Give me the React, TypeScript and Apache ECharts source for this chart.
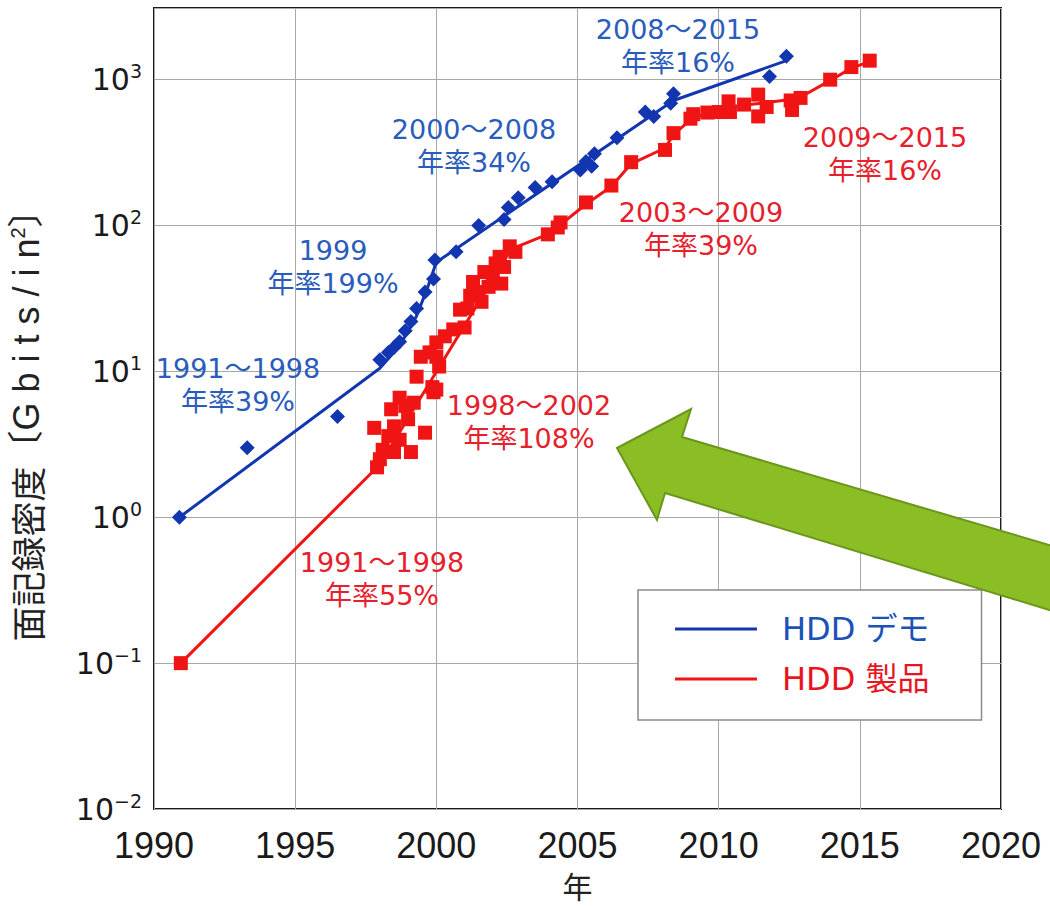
import React, { useEffect, useRef } from "react";
import * as echarts from "echarts";

// ---- data ----
const demoYears = [1990.9, 1993.3, 1996.5, 1998.0, 1998.3, 1998.5, 1998.7, 1998.9, 1999.1, 1999.3, 1999.6, 1999.9, 1999.95, 2000.7, 2001.5, 2002.4, 2002.55, 2002.9, 2003.5, 2004.1, 2005.1, 2005.3, 2005.5, 2005.6, 2006.4, 2007.4, 2007.7, 2008.3, 2008.4, 2011.8, 2012.4];
const demoValues = [1.0, 3.0, 4.9, 12, 13.5, 14.6, 16, 19, 22, 27, 35, 43, 58, 66, 100, 110, 133, 155, 182, 200, 240, 275, 255, 310, 400, 600, 560, 690, 800, 1050, 1450];

const productYears = [1990.95, 1997.9, 1998.0, 1998.1, 1997.8, 1998.3, 1998.4, 1998.5, 1998.5, 1998.7, 1998.7, 1998.9, 1999.0, 1999.1, 1999.2, 1999.3, 1999.45, 1999.6, 1999.76, 1999.86, 1999.9, 2000.0, 2000.0, 2000.1, 2000.0, 2000.3, 2000.6, 2000.84, 2001.0, 2001.1, 2001.2, 2001.3, 2001.5, 2001.6, 2001.7, 2001.85, 2002.0, 2002.1, 2002.24, 2002.3, 2002.4, 2002.6, 2002.8, 2003.95, 2004.3, 2004.4, 2005.3, 2006.2, 2006.9, 2008.1, 2008.4, 2009.0, 2009.1, 2009.6, 2010.0, 2010.35, 2010.4, 2010.9, 2011.4, 2011.4, 2011.7, 2012.55, 2012.6, 2012.9, 2013.95, 2014.7, 2015.35];
const productValues = [0.1, 2.2, 2.5, 2.9, 4.1, 3.6, 5.5, 2.8, 4.2, 3.4, 6.6, 5.8, 4.7, 2.8, 6.1, 9.2, 12.6, 3.8, 13.5, 7.8, 7.2, 15.8, 12.6, 10.8, 7.5, 17.4, 19.4, 26.5, 20, 27, 33, 41, 35, 30, 48, 38, 45, 55, 61, 40, 52, 72, 66, 87, 97, 105, 144, 188, 272, 330, 430, 540, 580, 595, 600, 710, 600, 675, 790, 560, 650, 720, 620, 750, 1000, 1220, 1350];

const demoTrendYears = [1990.9, 1998.0, 1998.7, 1999.3, 1999.7, 2000.0, 2008.4, 2012.4];
const demoTrendValues = [1.0, 10.5, 15, 24, 38, 56, 720, 1350];
const productTrendYears = [1990.95, 1998.0, 2002.65, 2004.0, 2005.3, 2006.2, 2006.9, 2008.1, 2008.4, 2009.0, 2010.0, 2011.5, 2012.8, 2014.0, 2014.7, 2015.35];
const productTrendValues = [0.1, 2.3, 69, 88, 140, 185, 265, 340, 420, 530, 640, 690, 740, 1000, 1200, 1330];

const seriesNames = ["HDD デモ", "HDD 製品"];
const xTicks = { min: 1990, max: 2020, interval: 5 };
const yRange = { min: 0.01, max: 3100 };

const demoNotes = ["2008～2015\n年率16%", "2000～2008\n年率34%", "1999\n年率199%", "1991～1998\n年率39%"];
const productNotes = ["2009～2015\n年率16%", "2003～2009\n年率39%", "1998～2002\n年率108%", "1991～1998\n年率55%"];

// layout (pixels) of the annotation texts
const demoNotePos = [[678, 46], [474, 146], [333, 267], [238, 385]];
const productNotePos = [[885, 154], [701, 229], [529, 422], [382, 579]];

const BLUE = "#1236b0";
const RED = "#f01414";
const BLUE_TXT = "#2a5cbc";
const RED_TXT = "#e6202c";
const FONT = "'DejaVu Sans', 'Noto Sans CJK JP', sans-serif";

const zip = (a: number[], b: number[]) => a.map((v, i) => [v, b[i]]);

export default function App() {
  const ref = useRef<HTMLDivElement>(null);
  useEffect(() => {
    if (!ref.current) return;
    const chart = echarts.init(ref.current, undefined, { renderer: "svg" });

    const noteEls: any[] = [];
    demoNotes.forEach((t, i) =>
      noteEls.push({
        type: "text",
        x: demoNotePos[i][0],
        y: demoNotePos[i][1],
        z: 50,
        style: { text: t, fill: BLUE_TXT, font: `27px ${FONT}`, align: "center", verticalAlign: "middle", lineHeight: 33 },
      })
    );
    productNotes.forEach((t, i) =>
      noteEls.push({
        type: "text",
        x: productNotePos[i][0],
        y: productNotePos[i][1],
        z: 50,
        style: { text: t, fill: RED_TXT, font: `27px ${FONT}`, align: "center", verticalAlign: "middle", lineHeight: 33 },
      })
    );

    const option: any = {
      animation: false,
      backgroundColor: "#ffffff",
      grid: {
        left: 143,
        right: 49,
        top: 8,
        bottom: 96,
        show: true,
        borderColor: "#1a1a1a",
        borderWidth: 2,
        backgroundColor: "transparent",
      },
      legend: {
        data: [
          { name: seriesNames[0], textStyle: { color: "#1a52b8" } },
          { name: seriesNames[1], textStyle: { color: "#e8141e" } },
        ],
        orient: "vertical",
        left: 638,
        top: 590,
        icon: "rect",
        itemWidth: 82,
        itemHeight: 3,
        itemGap: 16,
        padding: [22, 52, 24, 37],
        backgroundColor: "#ffffff",
        borderColor: "#8a8a8a",
        borderWidth: 1.5,
        textStyle: { fontSize: 32, fontFamily: FONT, padding: [0, 0, 0, 20], lineHeight: 34 },
      },
      xAxis: {
        type: "value",
        min: xTicks.min,
        max: xTicks.max,
        interval: xTicks.interval,
        name: "年",
        nameLocation: "middle",
        nameGap: 60,
        nameTextStyle: { fontSize: 30, lineHeight: 32, color: "#222", fontFamily: "'Noto Sans CJK JP', sans-serif" },
        axisLine: { show: false },
        axisTick: { show: false },
        axisLabel: {
          fontSize: 36,
          color: "#1a1a1a",
          fontFamily: "'Liberation Sans', Arial, sans-serif",
          margin: 18,
          formatter: (v: number) => String(Math.round(v)),
        },
        splitLine: { show: true, lineStyle: { color: "#a8a8a8", width: 1 } },
      },
      yAxis: {
        type: "log",
        logBase: 10,
        min: yRange.min,
        max: yRange.max,
        name: "{a|面記録密度}{b|〔G b i t s / i n}{c|2}{b|〕}",
        nameLocation: "middle",
        nameGap: 110,
        nameRotate: 90,
        nameTextStyle: {
          color: "#222",
          padding: [0, 16, 0, 0],
          rich: {
            a: { fontSize: 35, fontFamily: "'Noto Sans CJK JP', sans-serif", color: "#222" },
            b: { fontSize: 36, fontFamily: "'Liberation Sans', 'Noto Sans CJK JP', sans-serif", color: "#222" },
            c: { fontSize: 20, fontFamily: "'Liberation Sans', sans-serif", color: "#222", verticalAlign: "top" },
          },
        },
        axisLine: { show: false },
        axisTick: { show: false },
        axisLabel: {
          margin: 12,
          formatter: (v: number) => {
            const l = Math.log10(v);
            const e = Math.round(l);
            if (Math.abs(l - e) > 1e-6) return "";
            const s = e < 0 ? "−" + -e : String(e);
            return `{b|10}{s|${s}}`;
          },
          rich: {
            b: { fontSize: 30, fontFamily: FONT, color: "#1a1a1a", lineHeight: 36 },
            s: { fontSize: 19, fontFamily: FONT, color: "#1a1a1a", verticalAlign: "top", lineHeight: 18 },
          },
        },
        splitLine: { show: true, lineStyle: { color: "#a8a8a8", width: 1 } },
      },
      series: [
        {
          name: seriesNames[0],
          type: "line",
          data: zip(demoTrendYears, demoTrendValues),
          symbol: "none",
          lineStyle: { color: BLUE, width: 3 },
          itemStyle: { color: BLUE },
          z: 3,
        },
        {
          name: seriesNames[1],
          type: "line",
          data: zip(productTrendYears, productTrendValues),
          symbol: "none",
          lineStyle: { color: RED, width: 3 },
          itemStyle: { color: RED },
          z: 3,
        },
        {
          name: "デモ実績",
          type: "scatter",
          data: zip(demoYears, demoValues),
          symbol: "diamond",
          symbolSize: 15,
          itemStyle: { color: BLUE, opacity: 1 },
          z: 4,
        },
        {
          name: "製品実績",
          type: "scatter",
          data: zip(productYears, productValues),
          symbol: "rect",
          symbolSize: 14,
          itemStyle: { color: RED, opacity: 1 },
          z: 4,
        },
      ],
      graphic: [
        ...noteEls,
        {
          type: "polygon",
          z: 100,
          shape: {
            points: [
              [617, 448],
              [691, 409],
              [682, 437],
              [1056, 547],
              [1056, 612],
              [665, 493],
              [657, 520],
            ],
          },
          style: { fill: "#8bbd24", stroke: "#6a961c", lineWidth: 2 },
        },
      ],
    };
    chart.setOption(option);
    return () => chart.dispose();
  }, []);
  return (
    <div
      ref={ref}
      style={{ position: "fixed", left: 0, top: 0, width: 1050, height: 906, background: "#fff" }}
    />
  );
}
